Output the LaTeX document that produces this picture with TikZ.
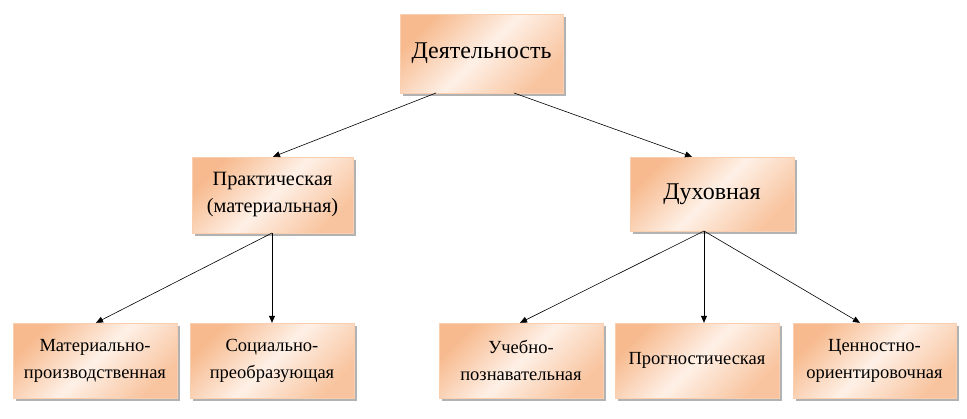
\documentclass[tikz,border=0pt]{standalone}
\usepackage{fontspec}
\setmainfont{Liberation Serif}
\newfontfamily\rusfont{Liberation Serif}
\usetikzlibrary{shadows,arrows.meta}
\definecolor{peachD}{HTML}{F7BA8E}
\definecolor{peachL}{HTML}{FEF0E6}
\tikzset{
  box/.style={draw=peachD!70!white, line width=0.4pt, shading=axis, left color=peachD, right color=peachD!85!white, middle color=peachL, shading angle=45,
    drop shadow={shadow xshift=2.5pt, shadow yshift=-2.5pt, fill=black, opacity=0.3},
    align=center, inner sep=0pt},
  conn/.style={-{Triangle[length=7pt,width=6pt]}, line width=0.6pt, black},
  big/.style={font=\rusfont\fontsize{24}{28}\selectfont},
  mid/.style={font=\rusfont\fontsize{20.3}{27}\selectfont},
  small/.style={font=\rusfont\fontsize{18.5}{27}\selectfont}
}
\begin{document}
\begin{tikzpicture}[x=1pt,y=-1pt]
\useasboundingbox (0,0) rectangle (967,418);
\fill[white] (0,0) rectangle (967,418);
\newcommand{\boxat}[7]{\node[box, #7, minimum width=#4-#2, minimum height=#5-#3] (#1) at ({(#2+#4)/2},{(#3+#5)/2}) {#6};}
\boxat{top}{400}{14}{563}{93}{Деятельность}{big}
\boxat{pr}{192}{157}{353}{233}{Практическая\\(материальная)}{mid}
\boxat{du}{630}{157}{794}{231}{Духовная}{big}
\boxat{b1}{13}{323}{177}{398}{Материально-\\производственная}{small}
\boxat{b2}{190}{323}{354}{398}{Социально-\\преобразующая}{small}
\boxat{b3}{439}{323}{603}{398}{Учебно-\\познавательная}{small}
\boxat{b4}{615}{323}{779}{398}{Прогностическая}{small}
\boxat{b5}{793}{323}{956}{398}{Ценностно-\\ориентировочная}{small}
\coordinate (t1) at (436,93);
\coordinate (t2) at (514,93);
\coordinate (p1) at (272,233);
\coordinate (d1) at (704,231);
\draw[conn] (t1) -- (pr.north -| 273,0);
\draw[conn] (t2) -- (du.north -| 692,0);
\draw[conn] (p1) -- (b1.north -| 96,0);
\draw[conn] (p1) -- (b2.north -| 272,0);
\draw[conn] (d1) -- (b3.north -| 520,0);
\draw[conn] (d1) -- (b4.north -| 704,0);
\draw[conn] (d1) -- (b5.north -| 860,0);
\end{tikzpicture}
\end{document}
